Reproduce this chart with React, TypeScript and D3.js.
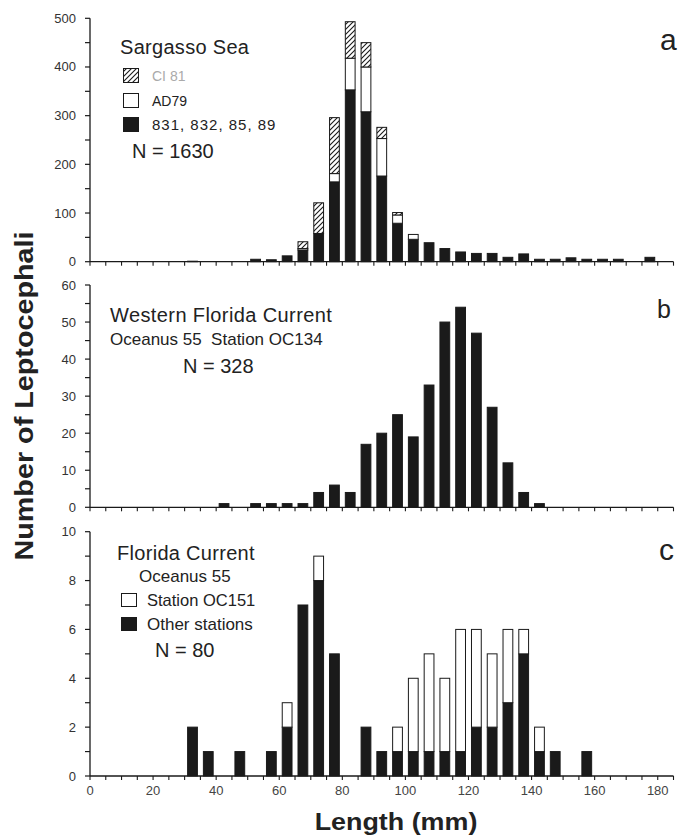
import React from "react";
import * as d3 from "d3";

const W = 689, H = 839;
const FONT = "'Liberation Sans', Arial, Helvetica, sans-serif";
const INK = "#1a1a1a";

// ── panel a: Sargasso Sea (bins by lower edge, mm) ──
const binsA = [30, 50, 55, 60, 65, 70, 75, 80, 85, 90, 95, 100, 105, 110, 115, 120, 125, 130, 135, 140, 145, 150, 155, 160, 165, 175];
const otherA = [1, 5, 4, 12, 24, 58, 164, 353, 308, 176, 79, 46, 39, 27, 20, 17, 17, 9, 16, 5, 5, 8, 5, 5, 5, 9];
const ad79A = [0, 0, 0, 0, 3, 0, 17, 65, 92, 77, 17, 10, 0, 0, 0, 0, 0, 0, 0, 0, 0, 0, 0, 0, 0, 0];
const ci81A = [0, 0, 0, 0, 14, 63, 115, 75, 50, 23, 5, 0, 0, 0, 0, 0, 0, 0, 0, 0, 0, 0, 0, 0, 0, 0];

// ── panel b: Western Florida Current ──
const binsB = [40, 50, 55, 60, 65, 70, 75, 80, 85, 90, 95, 100, 105, 110, 115, 120, 125, 130, 135, 140];
const countB = [1, 1, 1, 1, 1, 4, 6, 4, 17, 20, 25, 19, 33, 50, 54, 47, 27, 12, 4, 1];

// ── panel c: Florida Current ──
const binsC = [30, 35, 45, 55, 60, 65, 70, 75, 85, 90, 95, 100, 105, 110, 115, 120, 125, 130, 135, 140, 145, 155];
const otherC = [2, 1, 1, 1, 2, 7, 8, 5, 2, 1, 1, 1, 1, 1, 1, 2, 2, 3, 5, 1, 1, 1];
const oc151C = [0, 0, 0, 0, 1, 0, 1, 0, 0, 0, 1, 3, 4, 3, 5, 4, 3, 3, 1, 1, 0, 0];

const xTicks = d3.range(0, 186, 5);
const xLabels = d3.range(0, 181, 20);

const x = d3.scaleLinear().domain([0, 185]).range([90, 673.5]);
const BW = x(3.1) - x(0);

const fillFor = { other: INK, white: "#fff", hatch: "url(#hatch)" };

function Panel({ bins, series, keys, y, major, minor, showX }) {
  const rows = bins.map((b, i) => { const r = { bin: b }; keys.forEach(k => (r[k] = series[k][i])); return r; });
  const stacked = d3.stack().keys(keys)(rows);
  const [y0] = y.range();
  const [, top] = y.domain();
  return (
    <g>
      {stacked.map(layer => layer.map((d, i) => d[1] - d[0] > 0 && (
        <rect key={layer.key + i} x={x(d.data.bin + 2.5) - BW / 2} y={y(d[1])} width={BW} height={y(d[0]) - y(d[1])}
          fill={fillFor[layer.key]} stroke={INK} strokeWidth={1} />
      )))}
      <line x1={x(0)} x2={x(0)} y1={y0} y2={y(top)} stroke={INK} strokeWidth={1.3} />
      <line x1={x(0)} x2={x(185)} y1={y0} y2={y0} stroke={INK} strokeWidth={1.3} />
      {d3.range(0, top + 0.001, minor).map(t => <line key={t} x1={x(0) - 5} x2={x(0)} y1={y(t)} y2={y(t)} stroke={INK} strokeWidth={1.2} />)}
      {d3.range(0, top + 0.001, major).map(t => (
        <text key={"l" + t} x={76} y={y(t) + 4.5} textAnchor="end" fontSize={13} fill="#333">{t}</text>
      ))}
      {xTicks.map(t => <line key={"x" + t} x1={x(t)} x2={x(t)} y1={y0} y2={y0 + 4} stroke={INK} strokeWidth={1.1} />)}
      {showX && xLabels.map(t => <text key={"xl" + t} x={x(t)} y={y0 + 19} textAnchor="middle" fontSize={13} fill="#444">{t}</text>)}
    </g>
  );
}

export default function App() {
  const yA = d3.scaleLinear().domain([0, 500]).range([261.7, 18.3]);
  const yB = d3.scaleLinear().domain([0, 60]).range([507.3, 285]);
  const yC = d3.scaleLinear().domain([0, 10]).range([776, 531.7]);
  const T = { fontFamily: FONT, fill: "#222" };
  return (
    <div style={{ position: "absolute", left: 0, top: 0 }}>
      <svg width={W} height={H} viewBox={`0 0 ${W} ${H}`} style={{ display: "block", background: "#fff", fontFamily: FONT }}>
        <defs>
          <pattern id="hatch" patternUnits="userSpaceOnUse" width={5} height={5}>
            <rect width={5} height={5} fill="#fff" />
            <path d="M-1,1 l2,-2 M0,5 l5,-5 M4,6 l2,-2" stroke={INK} strokeWidth={1.1} />
          </pattern>
        </defs>

        <Panel bins={binsA} series={{ other: otherA, white: ad79A, hatch: ci81A }} keys={["other", "white", "hatch"]} y={yA} major={100} minor={50} />
        <Panel bins={binsB} series={{ other: countB }} keys={["other"]} y={yB} major={10} minor={5} />
        <Panel bins={binsC} series={{ other: otherC, white: oc151C }} keys={["other", "white"]} y={yC} major={2} minor={1} showX />

        {/* panel a legend */}
        <text x={120} y={53.5} fontSize={20} letterSpacing={0.3} {...T}>Sargasso Sea</text>
        <rect x={123.5} y={68.5} width={15} height={14} fill="url(#hatch)" stroke={INK} />
        <rect x={123.5} y={93.5} width={15} height={14} fill="#fff" stroke={INK} />
        <rect x={123.5} y={117.5} width={15} height={14} fill={INK} stroke={INK} />
        <text x={152} y={81} fontSize={14} {...T} fill="#aaa">CI 81</text>
        <text x={152} y={106} fontSize={14} {...T}>AD79</text>
        <text x={152} y={130} fontSize={15} letterSpacing={1} {...T}>831, 832, 85, 89</text>
        <text x={132} y={158} fontSize={20} {...T}>N = 1630</text>
        <text x={660} y={50} fontSize={30} {...T}>a</text>

        {/* panel b legend */}
        <text x={110} y={321.7} fontSize={20} letterSpacing={0.4} {...T}>Western Florida Current</text>
        <text x={110} y={345} fontSize={17} style={{ whiteSpace: "pre" }} {...T}>Oceanus 55  Station OC134</text>
        <text x={183} y={373} fontSize={20} {...T}>N = 328</text>
        <text x={657} y={318} fontSize={25} {...T}>b</text>

        {/* panel c legend */}
        <text x={117} y={560} fontSize={20} letterSpacing={0.3} {...T}>Florida Current</text>
        <text x={139} y={581.7} fontSize={17} {...T}>Oceanus 55</text>
        <rect x={121.5} y={593.5} width={15} height={13} fill="#fff" stroke={INK} />
        <rect x={121.5} y={617.5} width={15} height={13} fill={INK} stroke={INK} />
        <text x={147} y={606} fontSize={16.5} {...T}>Station OC151</text>
        <text x={147} y={630} fontSize={17} {...T}>Other stations</text>
        <text x={155} y={656.7} fontSize={20} {...T}>N = 80</text>
        <text x={659} y={560} fontSize={30} {...T}>c</text>

        {/* axis titles (original face is wider than Arial, so stretch horizontally) */}
        <text transform="translate(33 396) rotate(-90) scale(1.15 1)" textAnchor="middle" fontSize={25} fontWeight="bold" {...T}>Number of Leptocephali</text>
        <text transform="translate(396 830) scale(1.12 1)" textAnchor="middle" fontSize={24} fontWeight="bold" {...T}>Length (mm)</text>
      </svg>
    </div>
  );
}
